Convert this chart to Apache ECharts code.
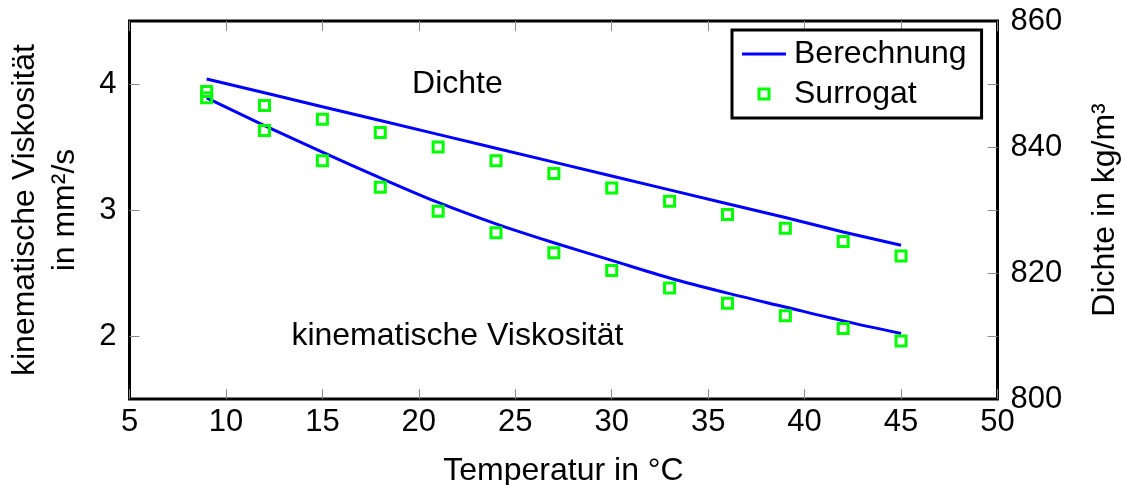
<!DOCTYPE html>
<html>
<head>
<meta charset="utf-8">
<script src="https://cdn.jsdelivr.net/npm/echarts@6/dist/echarts.min.js"></script>
<style>
  html, body { margin: 0; padding: 0; background: #fff; }
  #chart { width: 1122px; height: 485px; }
</style>
</head>
<body>
<div id="chart"></div>
<script>
// Temperature in °C
const temperatures = [9, 12, 15, 18, 21, 24, 27, 30, 33, 36, 39, 42, 45];

// Density in kg/m³ (right axis)
const densityCalc      = [850.8, 848.6, 846.4, 844.2, 842.0, 839.8, 837.6, 835.4, 833.2, 831.0, 828.8, 826.5, 824.4];
const densitySurrogate = [848.8, 846.6, 844.4, 842.3, 840.0, 837.8, 835.8, 833.5, 831.4, 829.3, 827.1, 825.0, 822.7];

// Kinematic viscosity in mm²/s (left axis)
const viscosityCalc      = [3.89, 3.67, 3.46, 3.255, 3.06, 2.89, 2.74, 2.60, 2.46, 2.34, 2.23, 2.12, 2.02];
const viscositySurrogate = [3.89, 3.63, 3.39, 3.18, 2.99, 2.82, 2.66, 2.52, 2.38, 2.26, 2.16, 2.06, 1.96];

// Axis ticks
const viscosityTickValues = [2, 3, 4];
const densityLabelValues  = [800, 820, 840, 860];
const densityTickValues   = [810, 820, 830, 840, 850];

const FONT = 'Liberation Sans, Arial, Helvetica, sans-serif';
const BLUE = '#0000ff';
const GREEN = '#00ff00';
const TICK = '#8c8c8c';
const TEXT_SIZE = 32;
const TICK_SIZE = 31;

const pairs = (ys) => temperatures.map((t, i) => [t, ys[i]]);

const chart = echarts.init(document.getElementById('chart'), null, { renderer: 'canvas' });

chart.setOption({
  animation: false,
  backgroundColor: '#fff',
  textStyle: { fontFamily: FONT, color: '#000' },
  grid: {
    left: 129.5, right: 124.5, top: 21, bottom: 86,
    containLabel: false, outerBoundsMode: 'none',
    show: true, borderColor: '#000', borderWidth: 3, backgroundColor: 'transparent'
  },
  legend: {
    orient: 'vertical',
    left: 732, top: 30,
    padding: [8, 15, 8, 10],
    itemGap: 8,
    itemWidth: 44, itemHeight: 13,
    borderColor: '#000', borderWidth: 3, borderRadius: 0,
    backgroundColor: '#fff',
    textStyle: { fontSize: TEXT_SIZE, fontFamily: FONT, color: '#000', lineHeight: 32, padding: [0, 0, 0, 3] },
    data: [
      { name: 'Berechnung', icon: 'path://M0,0H44V3H0Z', itemStyle: { color: BLUE, borderWidth: 0 } },
      { name: 'Surrogat', icon: 'path://M0,0H13V13H0Z M3,3V10H10V3Z', itemStyle: { color: GREEN, borderWidth: 0 } }
    ]
  },
  xAxis: [
    {
      type: 'value', position: 'bottom', min: 5, max: 50, interval: 5,
      name: 'Temperatur in °C', nameLocation: 'middle', nameGap: 56,
      nameTextStyle: { fontSize: TEXT_SIZE, fontFamily: FONT, color: '#000' },
      axisLine: { show: false },
      axisTick: { show: true, inside: true, length: 10, lineStyle: { color: TICK, width: 1 } },
      axisLabel: { fontSize: TICK_SIZE, fontFamily: FONT, color: '#000', margin: 8 },
      splitLine: { show: false }
    },
    {
      type: 'value', position: 'top', min: 5, max: 50, interval: 5,
      axisLine: { show: false },
      axisTick: { show: true, inside: true, length: 10, lineStyle: { color: TICK, width: 1 } },
      axisLabel: { show: false },
      splitLine: { show: false }
    }
  ],
  yAxis: [
    {
      type: 'value', position: 'left', min: 1.5, max: 4.5, interval: 0.5,
      name: 'kinematische Viskosität\nin mm²/s', nameLocation: 'middle', nameRotate: 90, nameGap: 44,
      nameTextStyle: { fontSize: TEXT_SIZE, fontFamily: FONT, color: '#000', lineHeight: 40 },
      axisLine: { show: false },
      axisTick: { show: true, inside: true, length: 10, customValues: viscosityTickValues, lineStyle: { color: TICK, width: 1 } },
      axisLabel: { fontSize: TICK_SIZE, fontFamily: FONT, color: '#000', margin: 13, customValues: viscosityTickValues },
      splitLine: { show: false }
    },
    {
      type: 'value', position: 'right', min: 800, max: 860, interval: 10,
      name: 'Dichte in kg/m³', nameLocation: 'middle', nameRotate: 90, nameGap: 92,
      nameTextStyle: { fontSize: TEXT_SIZE, fontFamily: FONT, color: '#000' },
      axisLine: { show: false },
      axisTick: { show: true, inside: true, length: 10, customValues: densityTickValues, lineStyle: { color: TICK, width: 1 } },
      axisLabel: { fontSize: TICK_SIZE, fontFamily: FONT, color: '#000', margin: 13, customValues: densityLabelValues },
      splitLine: { show: false }
    }
  ],
  series: [
    {
      name: 'Berechnung', type: 'line', xAxisIndex: 0, yAxisIndex: 1,
      data: pairs(densityCalc), showSymbol: false, symbol: 'none',
      color: BLUE, lineStyle: { color: BLUE, width: 3 }, z: 2
    },
    {
      name: 'Berechnung', type: 'line', xAxisIndex: 0, yAxisIndex: 0,
      data: pairs(viscosityCalc), showSymbol: false, symbol: 'none', smooth: 0.3,
      color: BLUE, lineStyle: { color: BLUE, width: 3 }, z: 2
    },
    {
      name: 'Surrogat', type: 'scatter', xAxisIndex: 0, yAxisIndex: 1,
      data: pairs(densitySurrogate), symbol: 'rect', symbolSize: 10,
      itemStyle: { color: 'transparent', borderColor: GREEN, borderWidth: 3, opacity: 1 }, z: 3
    },
    {
      name: 'Surrogat', type: 'scatter', xAxisIndex: 0, yAxisIndex: 0,
      data: pairs(viscositySurrogate), symbol: 'rect', symbolSize: 10,
      itemStyle: { color: 'transparent', borderColor: GREEN, borderWidth: 3, opacity: 1 }, z: 3
    }
  ]
});

// Curve annotations placed in data coordinates of the viscosity axis
const annotations = [
  { text: 'Dichte', at: [22, 4] },
  { text: 'kinematische Viskosität', at: [22, 2] }
];
chart.setOption({
  graphic: annotations.map((a) => {
    const p = chart.convertToPixel({ xAxisIndex: 0, yAxisIndex: 0 }, a.at);
    return {
      type: 'text', x: p[0], y: p[1], z: 5,
      style: { text: a.text, fontSize: TEXT_SIZE, fontFamily: FONT, fill: '#000', align: 'center', verticalAlign: 'middle' }
    };
  })
});
</script>
</body>
</html>
